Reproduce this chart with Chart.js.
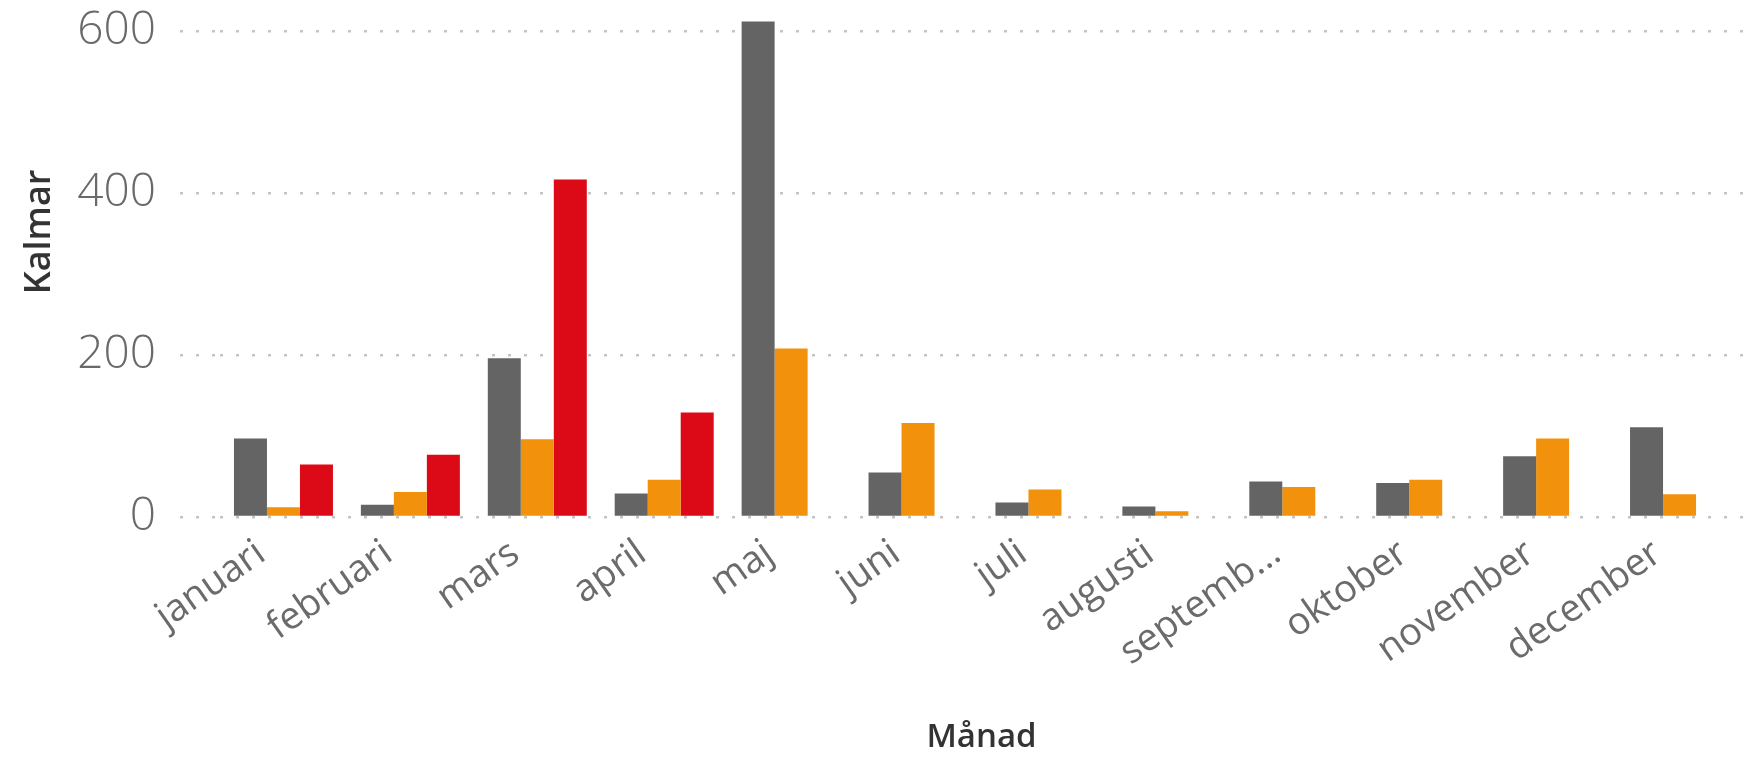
<!DOCTYPE html>
<html>
<head>
<meta charset="utf-8">
<script src="https://cdn.jsdelivr.net/npm/chart.js@4.4.1/dist/chart.umd.min.js"></script>
<style>
  html, body { margin: 0; padding: 0; background: #fff; }
  #wrap { width: 1749px; height: 759px; }
</style>
</head>
<body>
<div id="wrap"><canvas id="graficoKalmar"></canvas></div>
<script>
const manader = ['januari', 'februari', 'mars', 'april', 'maj', 'juni', 'juli', 'augusti', 'september', 'oktober', 'november', 'december'];
const serieGra = [97, 15, 196, 29, 612, 55, 18, 13, 44, 42, 75, 111];
const serieOrange = [12, 31, 96, 46, 208, 116, 34, 7, 37, 46, 97, 28];
const serieRod = [65, 77, 417, 129, null, null, null, null, null, null, null, null];
const yTicks = [0, 200, 400, 600];
const yMax = 630;
const yTitel = 'Kalmar';
const xTitel = 'Månad';

const dotted = [3, 13];

// klipper långa etiketter som Power BI gör
function kortEtikett(namn) {
  if (namn.length > 8) return namn.slice(0, 7) + '...';
  return namn;
}

// y-titeln ritas själv, Power BI lägger den lite högre än mitten
const yTitelPlugin = {
  id: 'yTitel',
  afterDraw(chart) {
    const ctx = chart.ctx;
    ctx.save();
    ctx.translate(40, 232);
    ctx.rotate(-Math.PI / 2);
    ctx.font = '600 36px "Open Sans"';
    ctx.fillStyle = '#333';
    ctx.textAlign = 'center';
    ctx.textBaseline = 'middle';
    ctx.fillText(yTitel, 0, 0);
    ctx.restore();
  }
};

const graficoKalmar = document.querySelector('#graficoKalmar');

const graficoParaKalmar = new Chart(graficoKalmar, {
  type: 'bar',
  data: {
    labels: manader,
    datasets: [
      { label: 'Serie 1', data: serieGra, backgroundColor: '#646464' },
      { label: 'Serie 2', data: serieOrange, backgroundColor: '#F2920C' },
      { label: 'Serie 3', data: serieRod, backgroundColor: '#DC0A16' }
    ]
  },
  plugins: [yTitelPlugin],
  options: {
    responsive: true,
    maintainAspectRatio: false,
    animation: false,
    datasets: {
      bar: { categoryPercentage: 0.78, barPercentage: 1.0 }
    },
    layout: { padding: { left: 20, right: 6, top: 7, bottom: 0 } },
    plugins: {
      legend: { display: false },
      tooltip: { enabled: false }
    },
    scales: {
      x: {
        offset: true,
        border: { display: false },
        grid: { display: false, drawTicks: false },
        ticks: {
          autoSkip: false,
          minRotation: 35,
          maxRotation: 35,
          padding: 14,
          labelOffset: -22,
          color: '#6b6b6b',
          font: { family: 'Open Sans', size: 38, weight: 400 },
          callback: function (value) { return kortEtikett(this.getLabelForValue(value)); }
        },
        title: {
          display: true,
          text: xTitel,
          color: '#333',
          font: { family: 'Open Sans', size: 33, weight: 600 },
          padding: { top: 4, bottom: 2 }
        },
        afterFit: (scale) => {
          scale.height = 242;
          scale.paddingLeft = 0;
          scale.paddingRight = 0;
        }
      },
      y: {
        min: 0,
        max: yMax,
        border: { display: false, dash: dotted },
        afterBuildTicks: (scale) => {
          scale.ticks = yTicks.map(v => ({ value: v }));
        },
        afterFit: (scale) => {
          scale.width = 200;
          scale.paddingTop = 0;
          scale.paddingBottom = 0;
        },
        grid: {
          color: '#c4c4c4',
          lineWidth: 2.5,
          drawTicks: true,
          tickLength: 40,
          tickColor: '#c4c4c4',
          tickWidth: 2.5,
          tickBorderDash: dotted
        },
        ticks: {
          padding: 24,
          color: '#6a6a6a',
          font: { family: 'Open Sans', size: 46, weight: 300 }
        }
      }
    }
  }
});
</script>
</body>
</html>
